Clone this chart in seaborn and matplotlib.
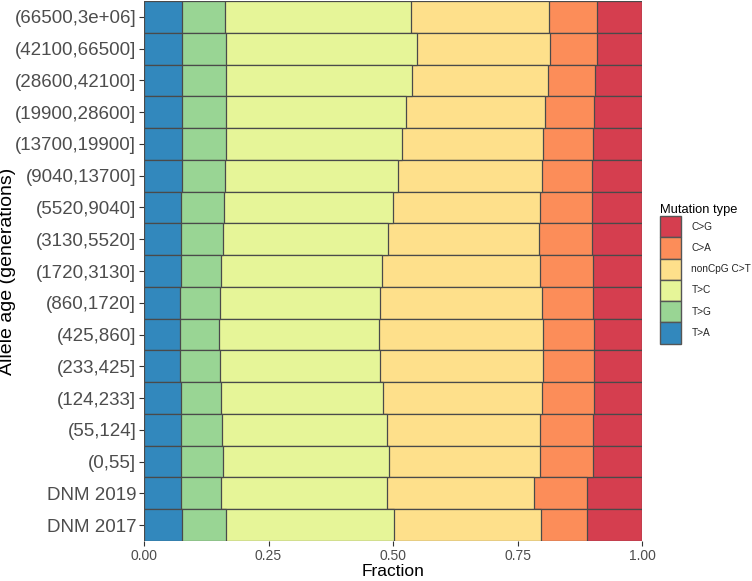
import matplotlib
matplotlib.use("Agg")
import matplotlib.pyplot as plt
import seaborn as sns
import numpy as np
import pandas as pd
from matplotlib.patches import Patch

categories = ["(66500,3e+06]", "(42100,66500]", "(28600,42100]", "(19900,28600]",
              "(13700,19900]", "(9040,13700]", "(5520,9040]", "(3130,5520]",
              "(1720,3130]", "(860,1720]", "(425,860]", "(233,425]", "(124,233]",
              "(55,124]", "(0,55]", "DNM 2019", "DNM 2017"]

t_a = [0.076, 0.076, 0.076, 0.076, 0.076, 0.076, 0.075, 0.074, 0.074, 0.073, 0.072, 0.072, 0.074, 0.074, 0.074, 0.075, 0.077]
t_g = [0.087, 0.088, 0.089, 0.089, 0.088, 0.087, 0.086, 0.084, 0.081, 0.080, 0.079, 0.080, 0.081, 0.083, 0.085, 0.080, 0.087]
t_c = [0.373, 0.384, 0.374, 0.362, 0.354, 0.347, 0.340, 0.331, 0.323, 0.320, 0.320, 0.321, 0.324, 0.330, 0.333, 0.332, 0.338]
noncpg_c_t = [0.277, 0.267, 0.272, 0.278, 0.283, 0.289, 0.295, 0.305, 0.318, 0.326, 0.330, 0.329, 0.321, 0.309, 0.303, 0.297, 0.296]
c_a = [0.096, 0.094, 0.095, 0.098, 0.100, 0.101, 0.104, 0.106, 0.105, 0.103, 0.103, 0.102, 0.103, 0.106, 0.107, 0.106, 0.092]
c_g = [0.091, 0.091, 0.094, 0.097, 0.099, 0.100, 0.100, 0.100, 0.099, 0.098, 0.096, 0.096, 0.097, 0.098, 0.098, 0.110, 0.110]

types = ["T>A", "T>G", "T>C", "nonCpG C>T", "C>A", "C>G"]
colors = {"T>A": "#3288BD", "T>G": "#99D594", "T>C": "#E6F598",
          "nonCpG C>T": "#FEE08B", "C>A": "#FC8D59", "C>G": "#D53E4F"}

fr = pd.DataFrame({"T>A": t_a, "T>G": t_g, "T>C": t_c, "nonCpG C>T": noncpg_c_t,
                   "C>A": c_a, "C>G": c_g}, index=categories)
fr = fr.div(fr.sum(axis=1), axis=0)
cum = fr.cumsum(axis=1)

sns.set_theme(style="white")
plt.rcParams['font.family'] = ['Liberation Sans', 'DejaVu Sans']

fig = plt.figure(figsize=(7.52, 5.81), dpi=100)
ax = fig.add_axes([144/752, 40/581, 498/752, 540/581])

for t in reversed(types):
    d = pd.DataFrame({"age": categories, "val": cum[t].values})
    sns.barplot(data=d, x="val", y="age", order=categories, orient="h",
                color=colors[t], saturation=1, width=1.0,
                edgecolor="#4a4a4a", linewidth=0.9, ax=ax)

ax.set_xlim(0, 1)
ax.set_ylim(len(categories) - 0.5, -0.5)
ax.set_xticks([0, 0.25, 0.5, 0.75, 1.0])
ax.set_xticklabels(["0.00", "0.25", "0.50", "0.75", "1.00"])
for s in ax.spines.values():
    s.set_visible(False)
ax.tick_params(axis="both", which="both", length=3.5, width=0.8, color="#333333",
               left=True, bottom=True)
ax.tick_params(axis="y", labelsize=13.5, labelcolor="#4d4d4d", pad=2)
ax.tick_params(axis="x", labelsize=10, labelcolor="#4d4d4d", pad=2)
ax.set_xlabel("Fraction", fontsize=12.5, color="black", labelpad=1)
ax.set_ylabel("Allele age (generations)", fontsize=14, color="black", labelpad=3)
ax.yaxis.set_label_coords(-128/498, 0.5)

handles = [Patch(facecolor=colors[t], edgecolor="#555555", linewidth=1.0, label=t)
           for t in reversed(types)]
leg = fig.legend(handles=handles, title="Mutation type", loc="upper left",
                 bbox_to_anchor=(660/752, 1 - 204/581), frameon=False, fontsize=7.3,
                 title_fontsize=9.3, handlelength=2.1, handleheight=2.85,
                 labelspacing=0.0, handletextpad=1.0, borderaxespad=0,
                 borderpad=0)
leg._legend_box.align = "left"
leg.get_title().set_color("black")

fig.savefig("out.png", dpi=100)
